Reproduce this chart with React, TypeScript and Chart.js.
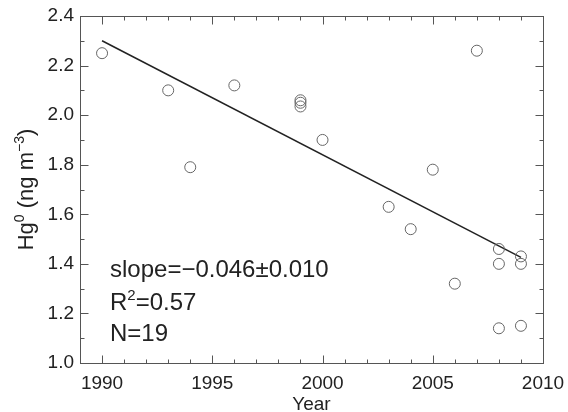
import React, { useEffect, useRef } from "react";
import { Chart, registerables } from "chart.js";

Chart.register(...registerables);

const years = [1990, 1993, 1994, 1996, 1999, 1999, 1999, 2000, 2003, 2004, 2005, 2006, 2007, 2008, 2008, 2008, 2009, 2009, 2009];
const hgValues = [2.25, 2.10, 1.79, 2.12, 2.06, 2.05, 2.035, 1.90, 1.63, 1.54, 1.78, 1.32, 2.26, 1.46, 1.40, 1.14, 1.43, 1.40, 1.15];
const fitYears = [1990, 2009];
const fitValues = [2.30, 1.426];
const xTickValues = [1990, 1995, 2000, 2005, 2010];
const yTickValues = [1.0, 1.2, 1.4, 1.6, 1.8, 2.0, 2.2, 2.4];
const statLines = ["slope=\u22120.046\u00b10.010", "R2=0.57", "N=19"];

const FONT = "'Liberation Sans', Arial, Helvetica, sans-serif";
const TEXT = "#222";

const framePlugin = {
  id: "frame",
  afterDatasetsDraw(chart: any) {
    const { ctx, chartArea, scales } = chart;
    const { left, right, top, bottom } = chartArea;
    const x = scales.x, y = scales.y;
    ctx.save();
    ctx.strokeStyle = "#555";
    ctx.lineWidth = 1;
    const L = Math.round(left) + 0.5, R = Math.round(right) + 0.5;
    const T = Math.round(top) + 0.5, B = Math.round(bottom) + 0.5;
    ctx.strokeRect(L, T, R - L, B - T);
    ctx.beginPath();
    for (let v = Math.ceil(x.min); v <= x.max; v++) {
      const px = Math.round(x.getPixelForValue(v)) + 0.5;
      const len = v % 5 === 0 ? 8 : 4;
      ctx.moveTo(px, B); ctx.lineTo(px, B - len);
      ctx.moveTo(px, T); ctx.lineTo(px, T + len);
    }
    for (let i = Math.round(y.min * 10); i <= Math.round(y.max * 10); i++) {
      const py = Math.round(y.getPixelForValue(i / 10)) + 0.5;
      const len = i % 2 === 0 ? 8 : 4;
      ctx.moveTo(L, py); ctx.lineTo(L + len, py);
      ctx.moveTo(R, py); ctx.lineTo(R - len, py);
    }
    ctx.stroke();
    ctx.restore();
  },
};

function drawSupText(ctx: any, parts: [string, boolean][], x: number, y: number, size: number) {
  let cx = x;
  for (const [t, sup] of parts) {
    ctx.font = `${sup ? Math.round(size * 0.62) : size}px ${FONT}`;
    ctx.fillText(t, cx, sup ? y - size * 0.42 : y);
    cx += ctx.measureText(t).width;
  }
  return cx - x;
}

function measureSup(ctx: any, parts: [string, boolean][], size: number) {
  let w = 0;
  for (const [t, sup] of parts) {
    ctx.font = `${sup ? Math.round(size * 0.62) : size}px ${FONT}`;
    w += ctx.measureText(t).width;
  }
  return w;
}

const textPlugin = {
  id: "texts",
  afterDraw(chart: any) {
    const { ctx, chartArea } = chart;
    const { left, top, bottom } = chartArea;
    ctx.save();
    ctx.fillStyle = TEXT;
    ctx.textBaseline = "alphabetic";
    ctx.textAlign = "left";
    // y-axis title
    const size = 22;
    const title: [string, boolean][] = [["Hg", false], ["0", true], [" (ng m", false], ["\u22123", true], [")", false]];
    const w = measureSup(ctx, title, size);
    ctx.save();
    ctx.translate(33, (top + bottom) / 2);
    ctx.rotate(-Math.PI / 2);
    drawSupText(ctx, title, -w / 2, 0, size);
    ctx.restore();
    // stats
    const s = 24;
    const bx = left + 30;
    ctx.font = `${s}px ${FONT}`;
    ctx.fillText(statLines[0], bx, 277);
    const r = statLines[1];
    drawSupText(ctx, [[r.slice(0, 1), false], [r.slice(1, 2), true], [r.slice(2), false]], bx, 310, s);
    ctx.font = `${s}px ${FONT}`;
    ctx.fillText(statLines[2], bx, 341);
    ctx.restore();
  },
};

export default function App() {
  const ref = useRef<HTMLCanvasElement>(null);
  useEffect(() => {
    if (!ref.current) return;
    const chart = new Chart(ref.current, {
      type: "scatter",
      data: {
        datasets: [
          {
            type: "scatter",
            data: years.map((yr, i) => ({ x: yr, y: hgValues[i] })),
            pointStyle: "circle",
            pointRadius: 5.5,
            pointBorderWidth: 1,
            borderColor: "#666",
            backgroundColor: "rgba(0,0,0,0)",
          },
          {
            type: "line",
            data: fitYears.map((yr, i) => ({ x: yr, y: fitValues[i] })),
            borderColor: "#222",
            borderWidth: 1.5,
            pointRadius: 0,
            fill: false,
          } as any,
        ],
      },
      options: {
        animation: false,
        responsive: true,
        maintainAspectRatio: false,
        layout: { padding: { top: 16, right: 25, left: 0, bottom: 0 } },
        plugins: { legend: { display: false }, tooltip: { enabled: false } },
        scales: {
          x: {
            type: "linear",
            min: 1989,
            max: 2010,
            grid: { display: false, drawTicks: false },
            border: { display: false },
            afterBuildTicks: (s: any) => { s.ticks = xTickValues.map((v) => ({ value: v })); },
            afterFit: (s: any) => { s.height = 49; s.paddingLeft = 0; s.paddingRight = 0; },
            ticks: {
              padding: 9,
              color: TEXT,
              font: { family: FONT, size: 19 },
              callback: (v: any) => String(v),
              maxRotation: 0,
            },
            title: {
              display: true,
              text: "Year",
              color: TEXT,
              font: { family: FONT, size: 19 },
              padding: { top: 0, bottom: -4 },
            },
          },
          y: {
            type: "linear",
            min: 1.0,
            max: 2.4,
            grid: { display: false, drawTicks: false },
            border: { display: false },
            afterBuildTicks: (s: any) => { s.ticks = yTickValues.map((v) => ({ value: v })); },
            afterFit: (s: any) => { s.width = 80; s.paddingTop = 0; s.paddingBottom = 0; },
            ticks: {
              padding: 6,
              color: TEXT,
              font: { family: FONT, size: 19 },
              callback: (v: any) => Number(v).toFixed(1),
            },
          },
        },
      },
      plugins: [framePlugin, textPlugin],
    });
    return () => chart.destroy();
  }, []);
  return (
    <div style={{ position: "fixed", left: 0, top: 0, width: 568, height: 412, background: "#fff" }}>
      <canvas ref={ref} />
    </div>
  );
}
